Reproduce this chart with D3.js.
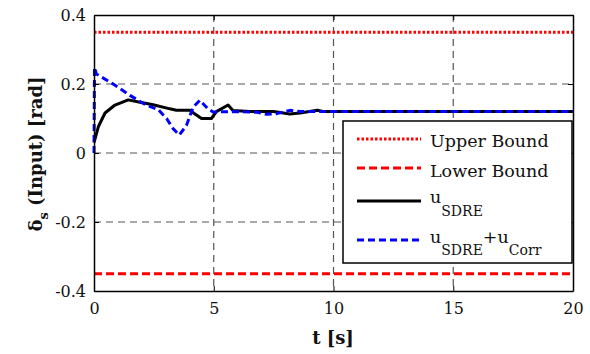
<!DOCTYPE html>
<html>
<head>
<meta charset="utf-8">
<script src="https://cdn.jsdelivr.net/npm/d3@7/dist/d3.min.js"></script>
<style>
  html, body { margin: 0; padding: 0; background: #fff; }
  svg { display: block; }
</style>
</head>
<body>
<svg id="chart" width="590" height="354"></svg>
<script>
// Control input history (rad) against time (s)
const xTicks = [0, 5, 10, 15, 20];
const yTicks = [-0.4, -0.2, 0, 0.2, 0.4];
const yTickLabels = ["-0.4", "-0.2", "0", "0.2", "0.4"];

const upperBound = 0.35;
const lowerBound = -0.35;

const tSdre = [0, 0.18, 0.46, 0.875, 1.43, 1.92, 2.47, 3.17, 3.44, 4.0, 4.2, 4.49, 4.9, 5.11, 5.6, 5.8, 6.5, 7.5, 8.17, 8.6, 9.0, 9.33, 9.6, 20];
const uSdre = [0.03, 0.076, 0.116, 0.139, 0.154, 0.147, 0.14, 0.128, 0.124, 0.124, 0.114, 0.10, 0.10, 0.12, 0.139, 0.123, 0.12, 0.12, 0.113, 0.116, 0.12, 0.124, 0.12, 0.12];

const tCorr = [0, 0.02, 0.1, 0.8, 1.5, 2.2, 2.68, 3.03, 3.3, 3.56, 3.86, 4.14, 4.42, 4.76, 4.97, 6.0, 6.8, 7.2, 7.6, 8.2, 8.6, 20];
const uCorr = [0, 0.248, 0.229, 0.2, 0.167, 0.138, 0.126, 0.10, 0.071, 0.052, 0.08, 0.133, 0.153, 0.128, 0.119, 0.12, 0.118, 0.112, 0.114, 0.124, 0.12, 0.12];

const svg = d3.select("#chart");
const L = 94, R = 573, T = 15, B = 291;
const x = d3.scaleLinear().domain([0, 20]).range([L, R]);
const y = d3.scaleLinear().domain([-0.4, 0.4]).range([B, T]);

const serif = "'DejaVu Serif', serif";

// grid
const grid = svg.append("g");
grid.selectAll("line.gx").data(xTicks.filter(d => d > 0 && d < 20)).enter().append("line")
  .attr("x1", d => x(d)).attr("x2", d => x(d)).attr("y1", T).attr("y2", B)
  .attr("stroke", "#555").attr("stroke-width", 1.2).attr("stroke-dasharray", "7,5");
grid.selectAll("line.gy").data(yTicks.filter(d => d > -0.4 && d < 0.4)).enter().append("line")
  .attr("y1", d => y(d)).attr("y2", d => y(d)).attr("x1", L).attr("x2", R)
  .attr("stroke", "#555").attr("stroke-width", 1.2).attr("stroke-dasharray", "7,5");

// bounds
svg.append("line").attr("x1", L).attr("x2", R).attr("y1", y(upperBound)).attr("y2", y(upperBound))
  .attr("stroke", "#ff0000").attr("stroke-width", 3).attr("stroke-dasharray", "2.5,2");
svg.append("line").attr("x1", L).attr("x2", R).attr("y1", y(lowerBound)).attr("y2", y(lowerBound))
  .attr("stroke", "#ff0000").attr("stroke-width", 3).attr("stroke-dasharray", "8,4");

// series
const line = d3.line().x(d => x(d[0])).y(d => y(d[1]));
svg.append("path").datum(d3.zip(tSdre, uSdre)).attr("d", line)
  .attr("fill", "none").attr("stroke", "#000").attr("stroke-width", 3).attr("stroke-linejoin", "round");
svg.append("path").datum(d3.zip(tCorr, uCorr)).attr("d", line)
  .attr("fill", "none").attr("stroke", "#0000ff").attr("stroke-width", 3).attr("stroke-dasharray", "7,4");

// axes frame with inward ticks on all sides
const xb = svg.append("g").attr("transform", `translate(0,${B})`)
  .call(d3.axisBottom(x).tickValues(xTicks).tickSizeInner(-5).tickSizeOuter(0).tickPadding(12));
const xt = svg.append("g").attr("transform", `translate(0,${T})`)
  .call(d3.axisTop(x).tickValues(xTicks).tickSizeInner(-5).tickSizeOuter(0).tickFormat(""));
const yl = svg.append("g").attr("transform", `translate(${L},0)`)
  .call(d3.axisLeft(y).tickValues(yTicks).tickSizeInner(-5).tickSizeOuter(0).tickPadding(8)
    .tickFormat((d, i) => yTickLabels[i]));
const yr = svg.append("g").attr("transform", `translate(${R},0)`)
  .call(d3.axisRight(y).tickValues(yTicks).tickSizeInner(-5).tickSizeOuter(0).tickFormat(""));
[xb, xt, yl, yr].forEach(g => {
  g.selectAll("path.domain").attr("stroke", "#000").attr("stroke-width", 1.5);
  g.selectAll(".tick line").attr("stroke", "#000").attr("stroke-width", 1);
  g.selectAll("text").attr("font-family", serif).attr("font-size", 16).attr("fill", "#111");
});

// legend
const lg = svg.append("g");
lg.append("rect").attr("x", 343).attr("y", 121).attr("width", 229).attr("height", 142)
  .attr("fill", "#fff").attr("stroke", "#000").attr("stroke-width", 1.5);
const items = [
  { y: 139, color: "#ff0000", dash: "2.5,2" },
  { y: 168, color: "#ff0000", dash: "8,4" },
  { y: 201, color: "#000", dash: null },
  { y: 240, color: "#0000ff", dash: "7,4" }
];
items.forEach(it => {
  lg.append("line").attr("x1", 357).attr("x2", 421).attr("y1", it.y).attr("y2", it.y)
    .attr("stroke", it.color).attr("stroke-width", 3).attr("stroke-dasharray", it.dash);
});
const lt = (yy) => lg.append("text").attr("x", 430).attr("y", yy)
  .attr("font-family", serif).attr("font-size", 17.5).attr("fill", "#111");
lt(147).text("Upper Bound");
lt(177).text("Lower Bound");
const t3 = lt(203);
t3.append("tspan").text("u");
t3.append("tspan").attr("dy", 13).attr("font-size", 14).text("SDRE");
const t4 = lt(243);
t4.append("tspan").text("u");
t4.append("tspan").attr("dy", 12).attr("font-size", 14).text("SDRE");
t4.append("tspan").attr("dy", -12).text("+u");
t4.append("tspan").attr("dy", 12).attr("font-size", 14).text("Corr");

// axis titles
svg.append("text").attr("x", 333).attr("y", 344).attr("text-anchor", "middle")
  .attr("font-family", serif).attr("font-weight", "bold").attr("font-size", 18).attr("fill", "#111")
  .text("t [s]");
const yt = svg.append("text").attr("transform", "translate(42,154) rotate(-90)").attr("text-anchor", "middle")
  .attr("font-family", serif).attr("font-weight", "bold").attr("font-size", 18).attr("fill", "#111");
yt.append("tspan").text("δ");
yt.append("tspan").attr("dy", 6).attr("font-size", 13).text("s");
yt.append("tspan").attr("dy", -6).text(" (Input) [rad]");
</script>
</body>
</html>
